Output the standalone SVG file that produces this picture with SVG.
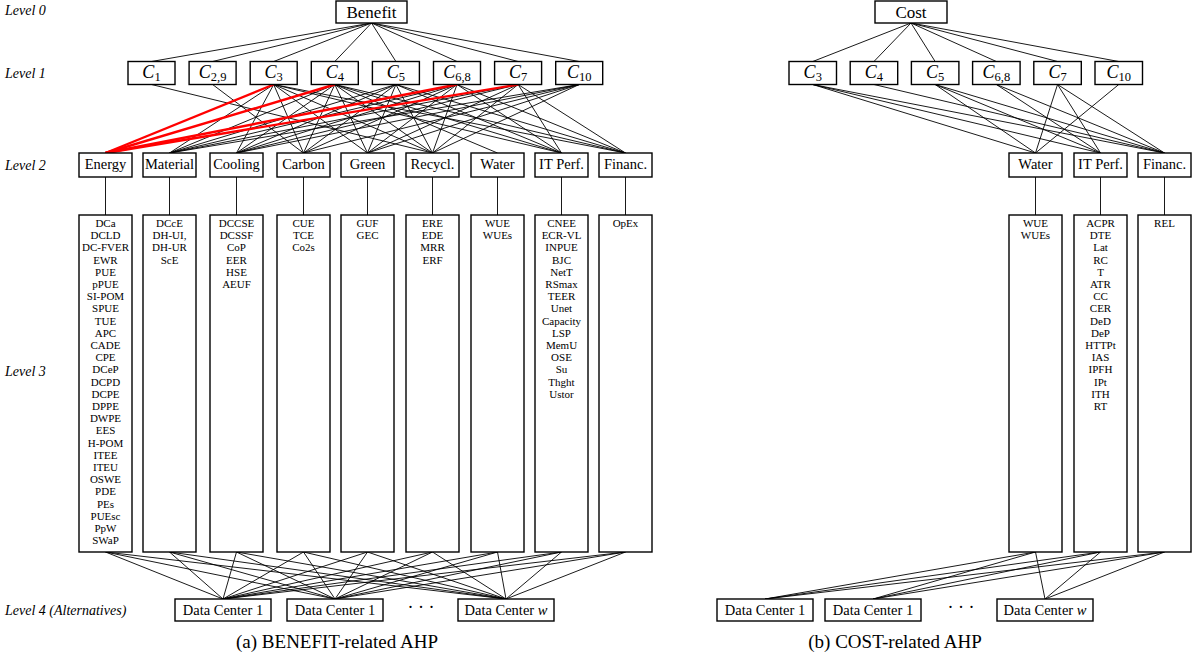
<svg xmlns="http://www.w3.org/2000/svg" width="1196" height="666" viewBox="0 0 1196 666">
<style>
.bx{fill:#fff;stroke:#000;stroke-width:1.4}
.ln line{stroke:#000;stroke-width:0.9}
.red line{stroke:#ff0000;stroke-width:2.4}
.lv{font-family:"Liberation Serif",serif;font-style:italic;font-size:14px}
.t17{font-family:"Liberation Serif",serif;font-size:17px;text-anchor:middle}
.t14{font-family:"Liberation Serif",serif;font-size:14.5px;text-anchor:middle}
.t11{font-family:"Liberation Serif",serif;font-size:11px;text-anchor:middle}
.dots{font-family:"Liberation Serif",serif;font-size:18px;text-anchor:middle}
.mc{font-family:"Liberation Serif",serif;font-size:18px;text-anchor:middle}
.mc .c{font-style:italic}
.mc .s{font-size:12.5px}
.cap{font-family:"Liberation Serif",serif;font-size:19px;text-anchor:middle}
</style>
<rect width="1196" height="666" fill="#fff"/>
<g id="level-labels">
<text class="lv" x="5" y="15">Level 0</text>
<text class="lv" x="5" y="78">Level 1</text>
<text class="lv" x="5" y="170">Level 2</text>
<text class="lv" x="5" y="376">Level 3</text>
<text class="lv" x="5" y="615">Level 4 (Alternatives)</text>
</g>
<g id="connectors">
<g class="ln">
<line x1="371.5" y1="23" x2="151.5" y2="61.5"/>
<line x1="371.5" y1="23" x2="212.6" y2="61.5"/>
<line x1="371.5" y1="23" x2="273.7" y2="61.5"/>
<line x1="371.5" y1="23" x2="334.8" y2="61.5"/>
<line x1="371.5" y1="23" x2="395.9" y2="61.5"/>
<line x1="371.5" y1="23" x2="457" y2="61.5"/>
<line x1="371.5" y1="23" x2="518.1" y2="61.5"/>
<line x1="371.5" y1="23" x2="579.2" y2="61.5"/>
<line x1="151.5" y1="84.5" x2="432.5" y2="153"/>
<line x1="212.6" y1="84.5" x2="303.5" y2="153"/>
<line x1="273.7" y1="84.5" x2="169.5" y2="153"/>
<line x1="273.7" y1="84.5" x2="236.5" y2="153"/>
<line x1="273.7" y1="84.5" x2="303.5" y2="153"/>
<line x1="273.7" y1="84.5" x2="367.5" y2="153"/>
<line x1="273.7" y1="84.5" x2="432.5" y2="153"/>
<line x1="273.7" y1="84.5" x2="561.5" y2="153"/>
<line x1="273.7" y1="84.5" x2="625.5" y2="153"/>
<line x1="334.8" y1="84.5" x2="169.5" y2="153"/>
<line x1="334.8" y1="84.5" x2="236.5" y2="153"/>
<line x1="334.8" y1="84.5" x2="303.5" y2="153"/>
<line x1="334.8" y1="84.5" x2="367.5" y2="153"/>
<line x1="334.8" y1="84.5" x2="432.5" y2="153"/>
<line x1="334.8" y1="84.5" x2="497.5" y2="153"/>
<line x1="334.8" y1="84.5" x2="561.5" y2="153"/>
<line x1="334.8" y1="84.5" x2="625.5" y2="153"/>
<line x1="395.9" y1="84.5" x2="169.5" y2="153"/>
<line x1="395.9" y1="84.5" x2="236.5" y2="153"/>
<line x1="395.9" y1="84.5" x2="303.5" y2="153"/>
<line x1="395.9" y1="84.5" x2="367.5" y2="153"/>
<line x1="395.9" y1="84.5" x2="432.5" y2="153"/>
<line x1="395.9" y1="84.5" x2="561.5" y2="153"/>
<line x1="395.9" y1="84.5" x2="625.5" y2="153"/>
<line x1="457" y1="84.5" x2="169.5" y2="153"/>
<line x1="457" y1="84.5" x2="236.5" y2="153"/>
<line x1="457" y1="84.5" x2="303.5" y2="153"/>
<line x1="457" y1="84.5" x2="367.5" y2="153"/>
<line x1="457" y1="84.5" x2="432.5" y2="153"/>
<line x1="457" y1="84.5" x2="561.5" y2="153"/>
<line x1="457" y1="84.5" x2="625.5" y2="153"/>
<line x1="518.1" y1="84.5" x2="169.5" y2="153"/>
<line x1="518.1" y1="84.5" x2="236.5" y2="153"/>
<line x1="518.1" y1="84.5" x2="367.5" y2="153"/>
<line x1="518.1" y1="84.5" x2="432.5" y2="153"/>
<line x1="518.1" y1="84.5" x2="561.5" y2="153"/>
<line x1="518.1" y1="84.5" x2="625.5" y2="153"/>
<line x1="579.2" y1="84.5" x2="169.5" y2="153"/>
<line x1="579.2" y1="84.5" x2="236.5" y2="153"/>
<line x1="579.2" y1="84.5" x2="303.5" y2="153"/>
<line x1="579.2" y1="84.5" x2="367.5" y2="153"/>
<line x1="579.2" y1="84.5" x2="432.5" y2="153"/>
<line x1="105.5" y1="177" x2="105.5" y2="215"/>
<line x1="169.5" y1="177" x2="169.5" y2="215"/>
<line x1="236.5" y1="177" x2="236.5" y2="215"/>
<line x1="303.5" y1="177" x2="303.5" y2="215"/>
<line x1="367.5" y1="177" x2="367.5" y2="215"/>
<line x1="432.5" y1="177" x2="432.5" y2="215"/>
<line x1="497.5" y1="177" x2="497.5" y2="215"/>
<line x1="561.5" y1="177" x2="561.5" y2="215"/>
<line x1="625.5" y1="177" x2="625.5" y2="215"/>
<line x1="105.5" y1="552" x2="223" y2="599"/>
<line x1="105.5" y1="552" x2="335" y2="599"/>
<line x1="105.5" y1="552" x2="506" y2="599"/>
<line x1="169.5" y1="552" x2="223" y2="599"/>
<line x1="169.5" y1="552" x2="335" y2="599"/>
<line x1="169.5" y1="552" x2="506" y2="599"/>
<line x1="236.5" y1="552" x2="223" y2="599"/>
<line x1="236.5" y1="552" x2="335" y2="599"/>
<line x1="236.5" y1="552" x2="506" y2="599"/>
<line x1="303.5" y1="552" x2="223" y2="599"/>
<line x1="303.5" y1="552" x2="335" y2="599"/>
<line x1="303.5" y1="552" x2="506" y2="599"/>
<line x1="367.5" y1="552" x2="223" y2="599"/>
<line x1="367.5" y1="552" x2="335" y2="599"/>
<line x1="367.5" y1="552" x2="506" y2="599"/>
<line x1="432.5" y1="552" x2="223" y2="599"/>
<line x1="432.5" y1="552" x2="335" y2="599"/>
<line x1="432.5" y1="552" x2="506" y2="599"/>
<line x1="497.5" y1="552" x2="223" y2="599"/>
<line x1="497.5" y1="552" x2="335" y2="599"/>
<line x1="497.5" y1="552" x2="506" y2="599"/>
<line x1="561.5" y1="552" x2="223" y2="599"/>
<line x1="561.5" y1="552" x2="335" y2="599"/>
<line x1="561.5" y1="552" x2="506" y2="599"/>
<line x1="625.5" y1="552" x2="223" y2="599"/>
<line x1="625.5" y1="552" x2="335" y2="599"/>
<line x1="625.5" y1="552" x2="506" y2="599"/>
<line x1="911" y1="23" x2="812.75" y2="61.5"/>
<line x1="911" y1="23" x2="873.95" y2="61.5"/>
<line x1="911" y1="23" x2="935.15" y2="61.5"/>
<line x1="911" y1="23" x2="996.35" y2="61.5"/>
<line x1="911" y1="23" x2="1057.55" y2="61.5"/>
<line x1="911" y1="23" x2="1118.75" y2="61.5"/>
<line x1="812.75" y1="84.5" x2="1035.5" y2="153"/>
<line x1="812.75" y1="84.5" x2="1100.5" y2="153"/>
<line x1="812.75" y1="84.5" x2="1164.5" y2="153"/>
<line x1="873.95" y1="84.5" x2="1164.5" y2="153"/>
<line x1="935.15" y1="84.5" x2="1035.5" y2="153"/>
<line x1="935.15" y1="84.5" x2="1100.5" y2="153"/>
<line x1="935.15" y1="84.5" x2="1164.5" y2="153"/>
<line x1="996.35" y1="84.5" x2="1100.5" y2="153"/>
<line x1="996.35" y1="84.5" x2="1164.5" y2="153"/>
<line x1="1057.55" y1="84.5" x2="1035.5" y2="153"/>
<line x1="1057.55" y1="84.5" x2="1100.5" y2="153"/>
<line x1="1057.55" y1="84.5" x2="1164.5" y2="153"/>
<line x1="1118.75" y1="84.5" x2="1035.5" y2="153"/>
<line x1="1035.5" y1="177" x2="1035.5" y2="215"/>
<line x1="1100.5" y1="177" x2="1100.5" y2="215"/>
<line x1="1164.5" y1="177" x2="1164.5" y2="215"/>
<line x1="1035.5" y1="552" x2="765" y2="599"/>
<line x1="1035.5" y1="552" x2="873" y2="599"/>
<line x1="1035.5" y1="552" x2="1045" y2="599"/>
<line x1="1100.5" y1="552" x2="765" y2="599"/>
<line x1="1100.5" y1="552" x2="873" y2="599"/>
<line x1="1100.5" y1="552" x2="1045" y2="599"/>
<line x1="1164.5" y1="552" x2="765" y2="599"/>
<line x1="1164.5" y1="552" x2="873" y2="599"/>
<line x1="1164.5" y1="552" x2="1045" y2="599"/>
</g>
<g class="red">
<line x1="273.7" y1="84.5" x2="105.5" y2="153"/>
<line x1="334.8" y1="84.5" x2="105.5" y2="153"/>
<line x1="457" y1="84.5" x2="105.5" y2="153"/>
<line x1="518.1" y1="84.5" x2="105.5" y2="153"/>
</g>
</g>
<g id="benefit"><rect class="bx" x="336" y="1" width="71" height="22"/><text class="t17" x="371.5" y="18">Benefit</text></g>
<g id="b-c1"><rect class="bx" x="128" y="61.5" width="47" height="23"/><text class="mc" x="151.5" y="78"><tspan class="c">C</tspan><tspan class="s" dy="3">1</tspan></text></g>
<g id="b-c29"><rect class="bx" x="189.1" y="61.5" width="47" height="23"/><text class="mc" x="212.6" y="78"><tspan class="c">C</tspan><tspan class="s" dy="3">2,9</tspan></text></g>
<g id="b-c3"><rect class="bx" x="250.2" y="61.5" width="47" height="23"/><text class="mc" x="273.7" y="78"><tspan class="c">C</tspan><tspan class="s" dy="3">3</tspan></text></g>
<g id="b-c4"><rect class="bx" x="311.3" y="61.5" width="47" height="23"/><text class="mc" x="334.8" y="78"><tspan class="c">C</tspan><tspan class="s" dy="3">4</tspan></text></g>
<g id="b-c5"><rect class="bx" x="372.4" y="61.5" width="47" height="23"/><text class="mc" x="395.9" y="78"><tspan class="c">C</tspan><tspan class="s" dy="3">5</tspan></text></g>
<g id="b-c68"><rect class="bx" x="433.5" y="61.5" width="47" height="23"/><text class="mc" x="457" y="78"><tspan class="c">C</tspan><tspan class="s" dy="3">6,8</tspan></text></g>
<g id="b-c7"><rect class="bx" x="494.6" y="61.5" width="47" height="23"/><text class="mc" x="518.1" y="78"><tspan class="c">C</tspan><tspan class="s" dy="3">7</tspan></text></g>
<g id="b-c10"><rect class="bx" x="555.7" y="61.5" width="47" height="23"/><text class="mc" x="579.2" y="78"><tspan class="c">C</tspan><tspan class="s" dy="3">10</tspan></text></g>
<g id="b-energy"><rect class="bx" x="79" y="153" width="53" height="24"/><text class="t14" x="105.5" y="169">Energy</text></g>
<g id="b-material"><rect class="bx" x="143" y="153" width="53" height="24"/><text class="t14" x="169.5" y="169">Material</text></g>
<g id="b-cooling"><rect class="bx" x="210" y="153" width="53" height="24"/><text class="t14" x="236.5" y="169">Cooling</text></g>
<g id="b-carbon"><rect class="bx" x="277" y="153" width="53" height="24"/><text class="t14" x="303.5" y="169">Carbon</text></g>
<g id="b-green"><rect class="bx" x="341" y="153" width="53" height="24"/><text class="t14" x="367.5" y="169">Green</text></g>
<g id="b-recycl"><rect class="bx" x="406" y="153" width="53" height="24"/><text class="t14" x="432.5" y="169">Recycl.</text></g>
<g id="b-water"><rect class="bx" x="471" y="153" width="53" height="24"/><text class="t14" x="497.5" y="169">Water</text></g>
<g id="b-itperf"><rect class="bx" x="535" y="153" width="53" height="24"/><text class="t14" x="561.5" y="169">IT Perf.</text></g>
<g id="b-financ"><rect class="bx" x="599" y="153" width="53" height="24"/><text class="t14" x="625.5" y="169">Financ.</text></g>
<g id="b-energy-metrics"><rect class="bx" x="79" y="215" width="53" height="337"/><text class="t11" y="227"><tspan x="105.5">DCa</tspan><tspan x="105.5" dy="12.2">DCLD</tspan><tspan x="105.5" dy="12.2">DC-FVER</tspan><tspan x="105.5" dy="12.2">EWR</tspan><tspan x="105.5" dy="12.2">PUE</tspan><tspan x="105.5" dy="12.2">pPUE</tspan><tspan x="105.5" dy="12.2">SI-POM</tspan><tspan x="105.5" dy="12.2">SPUE</tspan><tspan x="105.5" dy="12.2">TUE</tspan><tspan x="105.5" dy="12.2">APC</tspan><tspan x="105.5" dy="12.2">CADE</tspan><tspan x="105.5" dy="12.2">CPE</tspan><tspan x="105.5" dy="12.2">DCeP</tspan><tspan x="105.5" dy="12.2">DCPD</tspan><tspan x="105.5" dy="12.2">DCPE</tspan><tspan x="105.5" dy="12.2">DPPE</tspan><tspan x="105.5" dy="12.2">DWPE</tspan><tspan x="105.5" dy="12.2">EES</tspan><tspan x="105.5" dy="12.2">H-POM</tspan><tspan x="105.5" dy="12.2">ITEE</tspan><tspan x="105.5" dy="12.2">ITEU</tspan><tspan x="105.5" dy="12.2">OSWE</tspan><tspan x="105.5" dy="12.2">PDE</tspan><tspan x="105.5" dy="12.2">PEs</tspan><tspan x="105.5" dy="12.2">PUEsc</tspan><tspan x="105.5" dy="12.2">PpW</tspan><tspan x="105.5" dy="12.2">SWaP</tspan></text></g>
<g id="b-material-metrics"><rect class="bx" x="143" y="215" width="53" height="337"/><text class="t11" y="227"><tspan x="169.5">DCcE</tspan><tspan x="169.5" dy="12.2">DH-UI,</tspan><tspan x="169.5" dy="12.2">DH-UR</tspan><tspan x="169.5" dy="12.2">ScE</tspan></text></g>
<g id="b-cooling-metrics"><rect class="bx" x="210" y="215" width="53" height="337"/><text class="t11" y="227"><tspan x="236.5">DCCSE</tspan><tspan x="236.5" dy="12.2">DCSSF</tspan><tspan x="236.5" dy="12.2">CoP</tspan><tspan x="236.5" dy="12.2">EER</tspan><tspan x="236.5" dy="12.2">HSE</tspan><tspan x="236.5" dy="12.2">AEUF</tspan></text></g>
<g id="b-carbon-metrics"><rect class="bx" x="277" y="215" width="53" height="337"/><text class="t11" y="227"><tspan x="303.5">CUE</tspan><tspan x="303.5" dy="12.2">TCE</tspan><tspan x="303.5" dy="12.2">Co2s</tspan></text></g>
<g id="b-green-metrics"><rect class="bx" x="341" y="215" width="53" height="337"/><text class="t11" y="227"><tspan x="367.5">GUF</tspan><tspan x="367.5" dy="12.2">GEC</tspan></text></g>
<g id="b-recycl-metrics"><rect class="bx" x="406" y="215" width="53" height="337"/><text class="t11" y="227"><tspan x="432.5">ERE</tspan><tspan x="432.5" dy="12.2">EDE</tspan><tspan x="432.5" dy="12.2">MRR</tspan><tspan x="432.5" dy="12.2">ERF</tspan></text></g>
<g id="b-water-metrics"><rect class="bx" x="471" y="215" width="53" height="337"/><text class="t11" y="227"><tspan x="497.5">WUE</tspan><tspan x="497.5" dy="12.2">WUEs</tspan></text></g>
<g id="b-itperf-metrics"><rect class="bx" x="535" y="215" width="53" height="337"/><text class="t11" y="227"><tspan x="561.5">CNEE</tspan><tspan x="561.5" dy="12.2">ECR-VL</tspan><tspan x="561.5" dy="12.2">INPUE</tspan><tspan x="561.5" dy="12.2">BJC</tspan><tspan x="561.5" dy="12.2">NetT</tspan><tspan x="561.5" dy="12.2">RSmax</tspan><tspan x="561.5" dy="12.2">TEER</tspan><tspan x="561.5" dy="12.2">Unet</tspan><tspan x="561.5" dy="12.2">Capacity</tspan><tspan x="561.5" dy="12.2">LSP</tspan><tspan x="561.5" dy="12.2">MemU</tspan><tspan x="561.5" dy="12.2">OSE</tspan><tspan x="561.5" dy="12.2">Su</tspan><tspan x="561.5" dy="12.2">Thght</tspan><tspan x="561.5" dy="12.2">Ustor</tspan></text></g>
<g id="b-financ-metrics"><rect class="bx" x="599" y="215" width="53" height="337"/><text class="t11" y="227"><tspan x="625.5">OpEx</tspan></text></g>
<g id="b-dc1"><rect class="bx" x="175" y="599" width="96" height="22"/><text class="t14" x="223" y="615">Data Center 1</text></g>
<g id="b-dc2"><rect class="bx" x="287" y="599" width="96" height="22"/><text class="t14" x="335" y="615">Data Center 1</text></g>
<g id="b-dots"><text class="dots" x="421" y="613">· · ·</text></g>
<g id="b-dcw"><rect class="bx" x="458" y="599" width="96" height="22"/><text class="t14" x="506" y="615">Data Center <tspan font-style="italic">w</tspan></text></g>
<g id="cost"><rect class="bx" x="875" y="1" width="72" height="22"/><text class="t17" x="911" y="18">Cost</text></g>
<g id="c-c3"><rect class="bx" x="789" y="61.5" width="47.5" height="23"/><text class="mc" x="812.75" y="78"><tspan class="c">C</tspan><tspan class="s" dy="3">3</tspan></text></g>
<g id="c-c4"><rect class="bx" x="850.2" y="61.5" width="47.5" height="23"/><text class="mc" x="873.95" y="78"><tspan class="c">C</tspan><tspan class="s" dy="3">4</tspan></text></g>
<g id="c-c5"><rect class="bx" x="911.4" y="61.5" width="47.5" height="23"/><text class="mc" x="935.15" y="78"><tspan class="c">C</tspan><tspan class="s" dy="3">5</tspan></text></g>
<g id="c-c68"><rect class="bx" x="972.6" y="61.5" width="47.5" height="23"/><text class="mc" x="996.35" y="78"><tspan class="c">C</tspan><tspan class="s" dy="3">6,8</tspan></text></g>
<g id="c-c7"><rect class="bx" x="1033.8" y="61.5" width="47.5" height="23"/><text class="mc" x="1057.55" y="78"><tspan class="c">C</tspan><tspan class="s" dy="3">7</tspan></text></g>
<g id="c-c10"><rect class="bx" x="1095" y="61.5" width="47.5" height="23"/><text class="mc" x="1118.75" y="78"><tspan class="c">C</tspan><tspan class="s" dy="3">10</tspan></text></g>
<g id="c-water"><rect class="bx" x="1009" y="153" width="53" height="24"/><text class="t14" x="1035.5" y="169">Water</text></g>
<g id="c-itperf"><rect class="bx" x="1074" y="153" width="53" height="24"/><text class="t14" x="1100.5" y="169">IT Perf.</text></g>
<g id="c-financ"><rect class="bx" x="1138" y="153" width="53" height="24"/><text class="t14" x="1164.5" y="169">Financ.</text></g>
<g id="c-water-metrics"><rect class="bx" x="1009" y="215" width="53" height="337"/><text class="t11" y="227"><tspan x="1035.5">WUE</tspan><tspan x="1035.5" dy="12.2">WUEs</tspan></text></g>
<g id="c-itperf-metrics"><rect class="bx" x="1074" y="215" width="53" height="337"/><text class="t11" y="227"><tspan x="1100.5">ACPR</tspan><tspan x="1100.5" dy="12.2">DTE</tspan><tspan x="1100.5" dy="12.2">Lat</tspan><tspan x="1100.5" dy="12.2">RC</tspan><tspan x="1100.5" dy="12.2">T</tspan><tspan x="1100.5" dy="12.2">ATR</tspan><tspan x="1100.5" dy="12.2">CC</tspan><tspan x="1100.5" dy="12.2">CER</tspan><tspan x="1100.5" dy="12.2">DeD</tspan><tspan x="1100.5" dy="12.2">DeP</tspan><tspan x="1100.5" dy="12.2">HTTPt</tspan><tspan x="1100.5" dy="12.2">IAS</tspan><tspan x="1100.5" dy="12.2">IPFH</tspan><tspan x="1100.5" dy="12.2">IPt</tspan><tspan x="1100.5" dy="12.2">ITH</tspan><tspan x="1100.5" dy="12.2">RT</tspan></text></g>
<g id="c-financ-metrics"><rect class="bx" x="1138" y="215" width="53" height="337"/><text class="t11" y="227"><tspan x="1164.5">REL</tspan></text></g>
<g id="c-dc1"><rect class="bx" x="717" y="599" width="96" height="22"/><text class="t14" x="765" y="615">Data Center 1</text></g>
<g id="c-dc2"><rect class="bx" x="825" y="599" width="96" height="22"/><text class="t14" x="873" y="615">Data Center 1</text></g>
<g id="c-dots"><text class="dots" x="961" y="613">· · ·</text></g>
<g id="c-dcw"><rect class="bx" x="997" y="599" width="96" height="22"/><text class="t14" x="1045" y="615">Data Center <tspan font-style="italic">w</tspan></text></g>
<g id="captions">
<text class="cap" x="337" y="648">(a)  BENEFIT-related AHP</text>
<text class="cap" x="895" y="648">(b)  COST-related AHP</text>
</g>
</svg>
